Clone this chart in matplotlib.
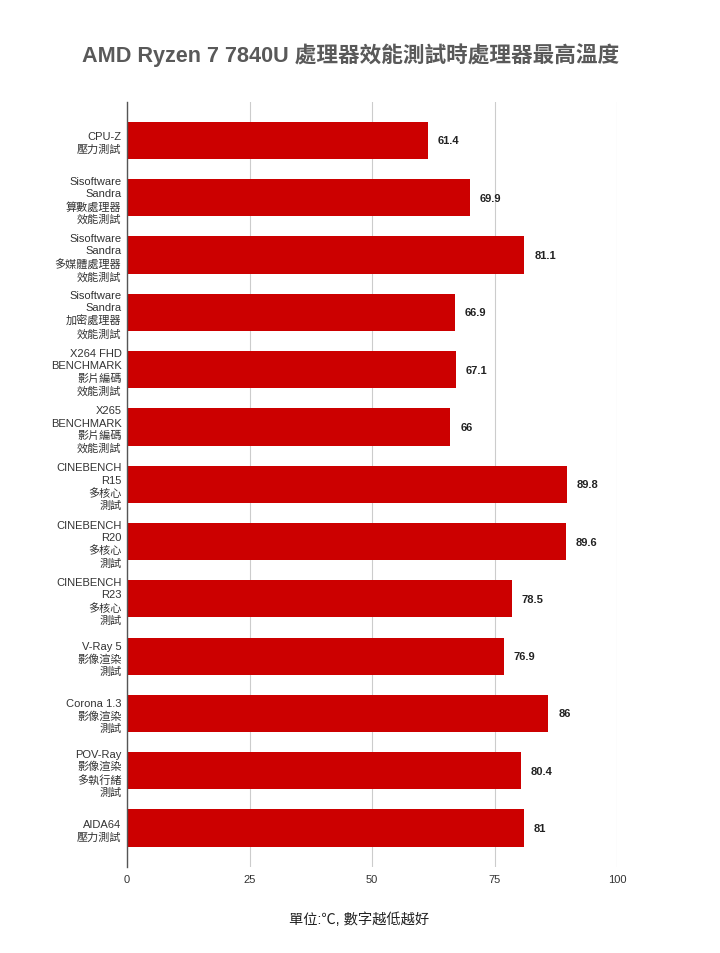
import matplotlib
matplotlib.use("Agg")
import matplotlib.pyplot as plt

plt.rcParams['font.family'] = ['Liberation Sans', 'Noto Sans CJK TC', 'DejaVu Sans']

categories = [
    "CPU-Z\n壓力測試",
    "Sisoftware\nSandra\n算數處理器\n效能測試",
    "Sisoftware\nSandra\n多媒體處理器\n效能測試",
    "Sisoftware\nSandra\n加密處理器\n效能測試",
    "X264 FHD\nBENCHMARK\n影片編碼\n效能測試",
    "X265\nBENCHMARK\n影片編碼\n效能測試",
    "CINEBENCH\nR15\n多核心\n測試",
    "CINEBENCH\nR20\n多核心\n測試",
    "CINEBENCH\nR23\n多核心\n測試",
    "V-Ray 5\n影像渲染\n測試",
    "Corona 1.3\n影像渲染\n測試",
    "POV-Ray\n影像渲染\n多執行緒\n測試",
    "AIDA64\n壓力測試",
]
values = [61.4, 69.9, 81.1, 66.9, 67.1, 66, 89.8, 89.6, 78.5, 76.9, 86, 80.4, 81]
value_labels = ["61.4", "69.9", "81.1", "66.9", "67.1", "66", "89.8", "89.6", "78.5", "76.9", "86", "80.4", "81"]
xticks = [0, 25, 50, 75, 100]
title = "AMD Ryzen 7 7840U 處理器效能測試時處理器最高溫度"
xlabel = "單位:℃, 數字越低越好"

fig = plt.figure(figsize=(7.2, 9.54), dpi=100)
ax = fig.add_axes([127/720, 86/954, 490/720, 765/954])

y = list(range(len(categories)))
ax.barh(y, values, height=0.65, color="#cc0000", zorder=3)
for yi, v, lab in zip(y, values, value_labels):
    ax.text(v + 2.0, yi, lab, va="center", ha="left", fontsize=8, fontweight="bold", color="#222222")

ax.set_ylim(12.68, -0.67)
ax.set_xlim(0, 100)
ax.set_yticks(y)
ax.set_yticklabels(categories, fontsize=8, color="#333333", linespacing=1.28)
ax.set_xticks(xticks)
ax.set_xticklabels([str(t) for t in xticks], fontsize=8, color="#333333")
ax.tick_params(axis="y", length=0, pad=4)
ax.tick_params(axis="x", length=0, pad=5)
ax.grid(axis="x", color="#cccccc", linewidth=0.8, zorder=0)
for s in ["top", "right", "bottom"]:
    ax.spines[s].set_visible(False)
ax.spines["left"].set_color("#555555")
ax.spines["left"].set_linewidth(1.0)
ax.spines["left"].set_zorder(4)

fig.text(351/720, 1 - 55/954, title, ha="center", va="center", fontsize=15.6, fontweight="bold", color="#595959")
fig.text(359/720, 1 - 920/954, xlabel, ha="center", va="center", fontsize=10.3, color="#222222")

fig.savefig("out.png", dpi=100)
